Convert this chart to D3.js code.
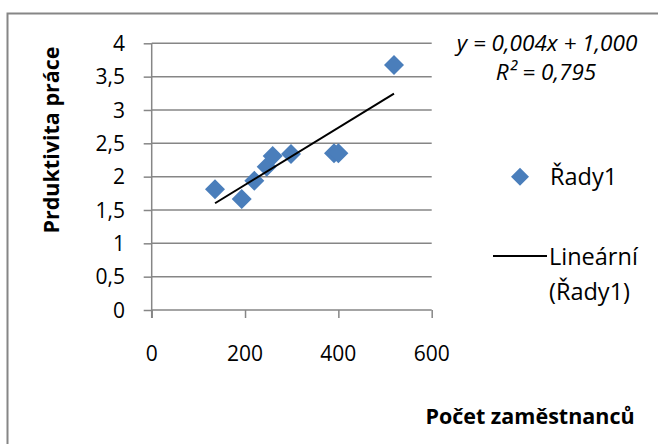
<!DOCTYPE html>
<html><head><meta charset="utf-8">
<script src="https://cdn.jsdelivr.net/npm/d3@7"></script>
<style>body{margin:0;background:#fff}svg{display:block}text{font-family:"Open Sans",Lato,sans-serif}</style>
</head><body>
<script>
const xValues = [135.7, 192.9, 219.9, 246.4, 259.3, 298.5, 390.6, 400, 519.2];
const yValues = [1.81, 1.665, 1.94, 2.15, 2.31, 2.34, 2.35, 2.35, 3.675];
const xTicks = [0, 200, 400, 600];
const yTicks = [0, 0.5, 1, 1.5, 2, 2.5, 3, 3.5, 4];
const seriesName = "Řady1";
const trendName = ["Lineární", "(Řady1)"];
const equationText = "y = 0,004x + 1,000";
const r2Text = "R² = 0,795";
const xTitle = "Počet zaměstnanců";
const yTitle = "Prduktivita práce";

const W = 658, H = 444;
const FS = 21, FT = 21.5, FL = 23.5, FE = 22.5;
const svg = d3.select("body").append("svg").attr("width", W).attr("height", H);
svg.append("rect").attr("x", 7.5).attr("y", 13.5).attr("width", 700).attr("height", 500)
  .attr("fill", "#fff").attr("stroke", "#868686").attr("stroke-width", 2);

const x = d3.scaleLinear().domain([0, 600]).range([151.7, 431.7]);
const y = d3.scaleLinear().domain([0, 4]).range([310, 43.3]);
const fmt = v => String(v).replace(".", ",");
const grey = "#868686";

const yAxis = d3.axisLeft(y).tickValues(yTicks).tickSize(8).tickFormat("");
const gy = svg.append("g").attr("transform", `translate(${x(0)},0)`).call(yAxis);
gy.select(".domain").remove();
gy.selectAll("line").attr("stroke", grey).attr("stroke-width", 1.5);
svg.append("g").selectAll("line").data(yTicks).join("line")
  .attr("x1", x(0)).attr("x2", x(600)).attr("y1", d => y(d)).attr("y2", d => y(d))
  .attr("stroke", grey).attr("stroke-width", 1.5);
svg.append("line").attr("x1", x(0)).attr("x2", x(0)).attr("y1", y(4)).attr("y2", y(0) + 8)
  .attr("stroke", grey).attr("stroke-width", 1.5);

const xAxis = d3.axisBottom(x).tickValues(xTicks).tickSize(8).tickFormat("");
const gx = svg.append("g").attr("transform", `translate(0,${y(0)})`).call(xAxis);
gx.select(".domain").remove();
gx.selectAll("line").attr("stroke", grey).attr("stroke-width", 1.5);

svg.append("g").selectAll("text").data(yTicks).join("text")
  .attr("x", 125).attr("y", d => y(d)).attr("dy", "0.36em").attr("text-anchor", "end")
  .attr("font-size", FS).attr("fill", "#000").text(fmt);
svg.append("g").selectAll("text").data(xTicks).join("text")
  .attr("x", d => x(d)).attr("y", 361).attr("text-anchor", "middle")
  .attr("font-size", FS).attr("fill", "#000").text(d => d);

svg.append("text").attr("x", 530).attr("y", 424).attr("text-anchor", "middle")
  .attr("font-size", FT).attr("font-weight", "bold").text(xTitle);
svg.append("text").attr("transform", "translate(59,140) rotate(-90)").attr("text-anchor", "middle")
  .attr("font-size", FT).attr("font-weight", "bold").text(yTitle);

const pts = xValues.map((v, i) => ({x: v, y: yValues[i]}));
const sym = d3.symbol().type(d3.symbolSquare).size(200);
svg.append("g").selectAll("path").data(pts).join("path")
  .attr("d", sym).attr("transform", d => `translate(${x(d.x)},${y(d.y)}) rotate(45)`)
  .attr("fill", "#4a7ebb");

const mx = d3.mean(xValues), my = d3.mean(yValues);
let sxy = 0, sxx = 0;
pts.forEach(p => { sxy += (p.x - mx) * (p.y - my); sxx += (p.x - mx) ** 2; });
const slope = sxy / sxx, icpt = my - slope * mx;
const [x0, x1] = d3.extent(xValues);
svg.append("line").attr("x1", x(x0)).attr("y1", y(icpt + slope * x0))
  .attr("x2", x(x1)).attr("y2", y(icpt + slope * x1)).attr("stroke", "#000").attr("stroke-width", 2);

svg.append("text").attr("x", 547).attr("y", 50.5).attr("text-anchor", "middle")
  .attr("font-size", FE).attr("font-style", "italic").text(equationText);
svg.append("text").attr("x", 546).attr("y", 80).attr("text-anchor", "middle")
  .attr("font-size", FE).attr("font-style", "italic").text(r2Text);

svg.append("path").attr("d", d3.symbol().type(d3.symbolSquare).size(162))
  .attr("transform", "translate(520,176.7) rotate(45)").attr("fill", "#4a7ebb");
svg.append("text").attr("x", 550).attr("y", 177).attr("dy", "0.36em").attr("font-size", FL).text(seriesName);
svg.append("line").attr("x1", 493).attr("x2", 547).attr("y1", 256).attr("y2", 256)
  .attr("stroke", "#000").attr("stroke-width", 2);
svg.append("text").attr("x", 549).attr("y", 257).attr("dy", "0.36em").attr("font-size", FL).text(trendName[0]);
svg.append("text").attr("x", 549).attr("y", 292).attr("dy", "0.36em").attr("font-size", FL).text(trendName[1]);
</script>
</body></html>
